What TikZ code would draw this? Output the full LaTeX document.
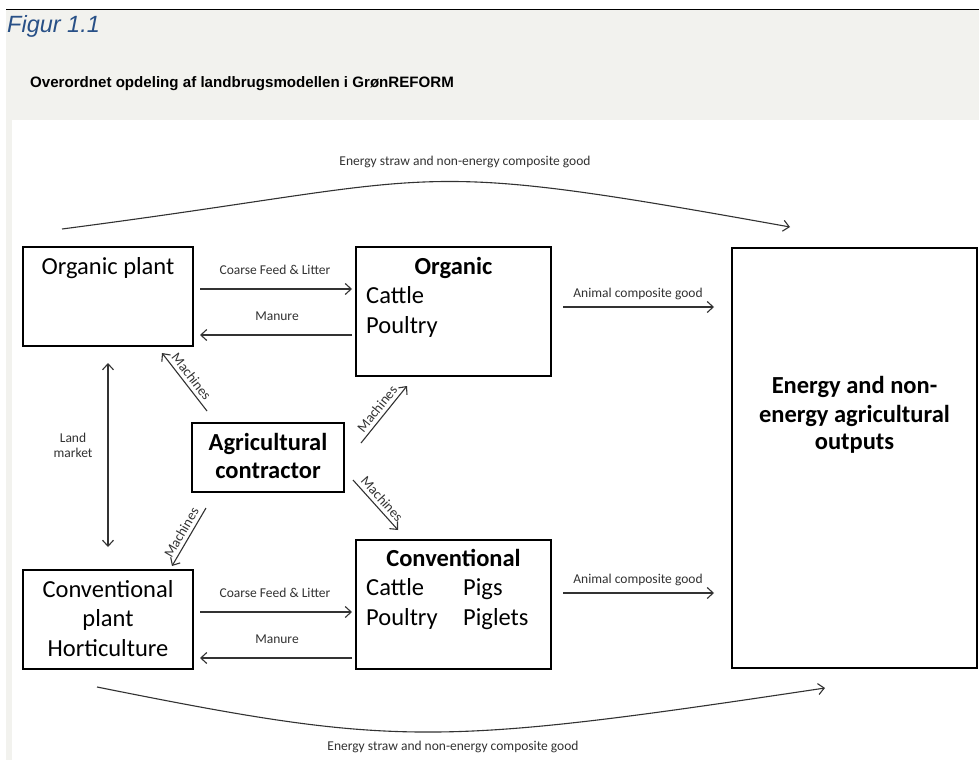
\documentclass[tikz,border=0pt]{standalone}
\usepackage{fontspec}
\setmainfont{Carlito}
\newfontfamily\arialfont{Liberation Sans}
\usetikzlibrary{arrows.meta}
\definecolor{hdrgray}{RGB}{242,242,238}
\definecolor{figblue}{RGB}{40,80,135}
\definecolor{lnc}{RGB}{50,50,50}
\begin{document}
\begin{tikzpicture}[x=1pt,y=-1pt,
  box/.style={draw=black, line width=2.6pt, rectangle, inner sep=0pt},
  big/.style={font=\fontsize{24.5}{28}\selectfont, anchor=base, inner sep=0pt},
  bigb/.style={font=\fontsize{24.5}{28}\selectfont\bfseries, anchor=base, inner sep=0pt},
  lbl/.style={font=\fontsize{13.5}{15}\selectfont, text=lnc, anchor=base, inner sep=0pt},
  mlbl/.style={font=\fontsize{14}{15}\selectfont, text=lnc, inner sep=0.5pt},
  conn/.style={draw=lnc, line width=1.1pt, -{Straight Barb[length=6pt,width=11pt]}},
  dconn/.style={draw=lnc, line width=1.1pt, {Straight Barb[length=6pt,width=11pt]}-{Straight Barb[length=6pt,width=11pt]}},
]
\useasboundingbox (0,0) rectangle (979,760);
\fill[hdrgray] (6,10) rectangle (979,760);
\fill[white] (12,120) rectangle (979,760);
\draw[black, line width=1pt] (6,10) -- (979,10);

\node[anchor=base west, inner sep=0pt, text=figblue, font=\arialfont\itshape\fontsize{23.5}{26}\selectfont] (fig) at (7,33) {Figur 1.1};
\node[anchor=base west, inner sep=0pt, font=\arialfont\bfseries\fontsize{15.1}{18}\selectfont] (title) at (30,87) {Overordnet opdeling af landbrugsmodellen i GrønREFORM};

% boxes
\node[box, minimum width=170pt, minimum height=99pt] (op) at (108,296.5) {};
\node[box, minimum width=195pt, minimum height=129pt] (ob) at (453.5,311.5) {};
\node[box, minimum width=245pt, minimum height=420pt] (en) at (854.5,458) {};
\node[box, minimum width=152pt, minimum height=69pt] (ac) at (268,457.5) {};
\node[box, minimum width=170pt, minimum height=99pt] (cp) at (108,619.5) {};
\node[box, minimum width=195pt, minimum height=129pt] (cb) at (453.5,604.5) {};

% box texts
\node[big] (topt) at (108,274) {Organic plant};
\node[bigb] (tob) at (453.5,274) {Organic};
\node[big, anchor=base west] (tob1) at (366,303) {Cattle};
\node[big, anchor=base west] (tob2) at (366,333) {Poultry};
\node[bigb] (ten1) at (854.5,393) {Energy and non-};
\node[bigb] (ten2) at (854.5,422) {energy agricultural};
\node[bigb] (ten3) at (854.5,449) {outputs};
\node[bigb] (tac1) at (268,450) {Agricultural};
\node[bigb] (tac2) at (268,478) {contractor};
\node[big] (tcp1) at (108,597) {Conventional};
\node[big] (tcp2) at (108,626) {plant};
\node[big] (tcp3) at (108,656) {Horticulture};
\node[bigb] (tcb) at (453.5,566) {Conventional};
\node[big, anchor=base west] (tcb1) at (366,595) {Cattle};
\node[big, anchor=base west] (tcb2) at (366,625) {Poultry};
\node[big, anchor=base west] (tcb3) at (463,595) {Pigs};
\node[big, anchor=base west] (tcb4) at (463,625) {Piglets};

% connector end points
\coordinate (cf1s) at (200,289); \coordinate (cf1e) at (352,289);
\coordinate (mn1s) at (352,335); \coordinate (mn1e) at (200,335);
\coordinate (cf2s) at (200,612); \coordinate (cf2e) at (352,612);
\coordinate (mn2s) at (352,658); \coordinate (mn2e) at (200,658);
\coordinate (an1s) at (563,307); \coordinate (an1e) at (714,307);
\coordinate (an2s) at (563,593); \coordinate (an2e) at (714,593);
\coordinate (lmt) at (108,363); \coordinate (lmb) at (108,547);
\coordinate (m1s) at (207,411); \coordinate (m1e) at (162,353);
\coordinate (m2s) at (361,443); \coordinate (m2e) at (407,386);
\coordinate (m3s) at (353,480); \coordinate (m3e) at (398,530);
\coordinate (m4s) at (206,508); \coordinate (m4e) at (172,566);
\coordinate (es1) at (62,229); \coordinate (ee1) at (790,227);
\coordinate (es2) at (97,687); \coordinate (ee2) at (825,688);

\draw[conn] (cf1s) -- (cf1e);
\draw[conn] (mn1s) -- (mn1e);
\draw[conn] (cf2s) -- (cf2e);
\draw[conn] (mn2s) -- (mn2e);
\draw[conn] (an1s) -- (an1e);
\draw[conn] (an2s) -- (an2e);
\draw[dconn] (lmt) -- (lmb);
\draw[conn] (m1s) -- node[mlbl, midway, sloped, above=3pt] (lm1) {Machines} (m1e);
\draw[conn] (m2s) -- node[mlbl, midway, sloped, above=3pt] (lm2) {Machines} (m2e);
\draw[conn] (m3s) -- node[mlbl, midway, sloped, above=3pt] (lm3) {Machines} (m3e);
\draw[conn] (m4s) -- node[mlbl, midway, sloped, above=3pt] (lm4) {Machines} (m4e);
\draw[conn] (es1) .. controls (458,177.5) and (394,155.7) .. (ee1);
\draw[conn] (es2) .. controls (397,747) and (434,746.7) .. (ee2);

% labels
\node[lbl] (lcf1) at (275,274) {Coarse Feed \& Litter};
\node[lbl] (lmn1) at (277,320) {Manure};
\node[lbl] (lcf2) at (275,597) {Coarse Feed \& Litter};
\node[lbl] (lmn2) at (277,643) {Manure};
\node[lbl] (lan1) at (638,297) {Animal composite good};
\node[lbl] (lan2) at (638,583) {Animal composite good};
\node[lbl] (llm1) at (73,442) {Land};
\node[lbl] (llm2) at (73,457) {market};
\node[lbl] (les1) at (465,165) {Energy straw and non-energy composite good};
\node[lbl] (les2) at (453,750) {Energy straw and non-energy composite good};
\end{tikzpicture}
\end{document}
